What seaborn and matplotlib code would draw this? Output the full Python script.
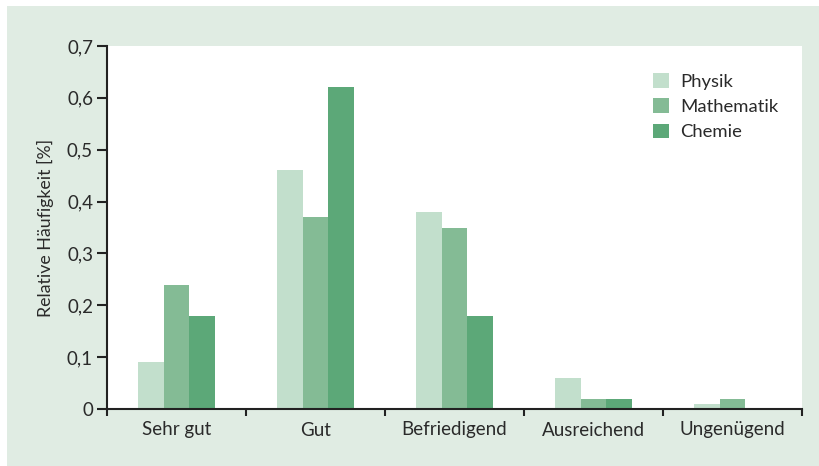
import pandas as pd
import seaborn as sns
import matplotlib.pyplot as plt
from matplotlib.patches import Rectangle
from matplotlib.ticker import FixedLocator, FuncFormatter

# Daten
noten = ['Sehr gut', 'Gut', 'Befriedigend', 'Ausreichend', 'Ungenügend']
faecher = ['Physik', 'Mathematik', 'Chemie']
physik = [0.09, 0.46, 0.38, 0.06, 0.01]
mathematik = [0.24, 0.37, 0.35, 0.02, 0.02]
chemie = [0.18, 0.62, 0.18, 0.02, 0.0]
farben = ['#c2dfcc', '#84bb95', '#5ca878']

df = pd.DataFrame({
    'Note': noten * 3,
    'Fach': [f for f in faecher for _ in noten],
    'Wert': physik + mathematik + chemie,
})

sns.set_theme(style="white")
plt.rcParams['font.family'] = ['Lato', 'DejaVu Sans']
plt.rcParams['text.color'] = '#2a2a2a'
plt.rcParams['xtick.color'] = '#222222'
plt.rcParams['ytick.color'] = '#222222'

fig = plt.figure(figsize=(8.2, 4.66), dpi=100)
fig.patch.set_facecolor('white')
fig.add_artist(Rectangle((7 / 820, 0), 1, (466 - 6) / 466, transform=fig.transFigure,
                         facecolor='#e0ece3', edgecolor='none', zorder=-10))

ax = fig.add_axes([107 / 820, 57 / 466, 695 / 820, 363 / 466])
ax.set_facecolor('white')

sns.barplot(data=df, x='Note', y='Wert', hue='Fach', order=noten, hue_order=faecher,
            palette=farben, width=0.555, linewidth=0, saturation=1, ax=ax)

ax.set_xlim(-0.5, 4.5)
ax.set_ylim(0, 0.7)
ax.set_yticks([0, 0.1, 0.2, 0.3, 0.4, 0.5, 0.6, 0.7])
ax.yaxis.set_major_formatter(FuncFormatter(
    lambda v, p: '0' if abs(v) < 1e-9 else f'{v:.1f}'.replace('.', ',')))
ax.xaxis.set_minor_locator(FixedLocator([-0.5, 0.5, 1.5, 2.5, 3.5, 4.5]))

ax.tick_params(axis='y', which='major', left=True, length=7, width=1.5, pad=3,
               labelsize=13.5, labelcolor='#2a2a2a')
ax.tick_params(axis='x', which='major', bottom=False, length=0, pad=9,
               labelsize=13.5, labelcolor='#2a2a2a')
ax.tick_params(axis='x', which='minor', bottom=True, length=5, width=1.5)

for side in ['top', 'right']:
    ax.spines[side].set_visible(False)
for side in ['left', 'bottom']:
    ax.spines[side].set_color('#222222')
    ax.spines[side].set_linewidth(1.5)

ax.set_xlabel('')
ax.set_ylabel('Relative Häufigkeit [%]', fontsize=12.8, color='#2a2a2a', labelpad=9)

ax.legend(title=None, frameon=False, loc='upper left', bbox_to_anchor=(0.775, 0.945),
          fontsize=13.3, handlelength=0.85, handleheight=0.85, handletextpad=0.6,
          labelspacing=0.45, borderaxespad=0)

fig.savefig('out.png', dpi=100)
